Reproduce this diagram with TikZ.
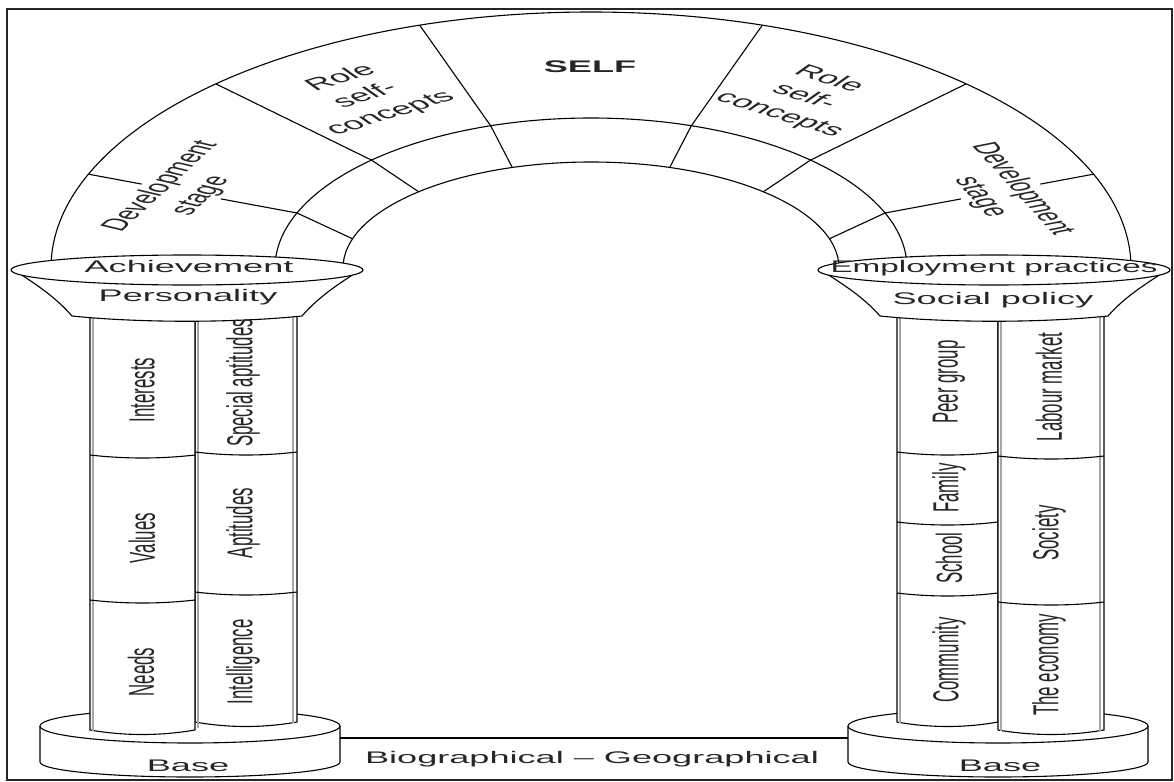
\documentclass[tikz,border=0pt]{standalone}
\usepackage{fontspec}
\setmainfont{Liberation Sans}

\newcommand{\lblfont}{\fontsize{16.8}{21}\selectfont}
\tikzset{
    lbl/.style={font=\lblfont, text=black!85, inner sep=0pt, align=center, xscale=2.15},
    vlbl/.style={lbl, rotate=90},
    col/.style={draw, fill=white},
    rim/.style={draw=black!35, line width=1.4pt},
}

\begin{document}
\begin{tikzpicture}[x=1pt, y=-1pt, line width=1.1pt]
    \useasboundingbox (0,0) rectangle (1174,781);

    \draw (51,268)  arc[start angle=180, end angle=360, x radius=540, y radius=256];
    \draw (275,268) arc[start angle=180, end angle=360, x radius=316, y radius=150];
    \draw (343,268) arc[start angle=180, end angle=360, x radius=248, y radius=106];
    \draw (215.9,83.9)  -- (371.5,160.1) -- (418.7,191.8);
    \draw (419.7,25.2)  -- (490.7,125.8) -- (512.3,167.5);
    \draw (762.3,25.2)  -- (691.3,125.8) -- (669.7,167.5);
    \draw (966.1,83.9)  -- (810.5,160.1) -- (763.3,191.8);
    \draw (88.6,174.2)  -- (141.7,184.1);
    \draw (220.9,198.9) -- (297,213)     -- (352.6,238.8);
    \draw (1093.4,174.2) -- (1040.3,184.1);
    \draw (961.1,198.9) -- (885,213)     -- (829.4,238.8);

    \draw[fill=white] (40,726) -- (40,762) arc[start angle=180, end angle=0, x radius=150, y radius=15] -- (340,726);
    \draw[fill=white] (190,726) ellipse[x radius=150, y radius=17];
    \draw[fill=white] (848,726) -- (848,762) arc[start angle=180, end angle=0, x radius=150, y radius=15] -- (1148,726);
    \draw[fill=white] (998,726) ellipse[x radius=150, y radius=17];
    \draw (340,738) -- (848,738);

    \draw[col] (195,314) -- (195,722) .. controls (229,728) and (263,728) .. (297,722) -- (297,314);
    \draw[rim] (293,316) -- (293,723);
    \draw[col] (90,314) -- (90,730) .. controls (125,736) and (160,736) .. (195,730) -- (195,314);
    \draw[rim] (93,316) -- (93,731);
    \draw[rim] (198,316) -- (198,728);
    \draw (90,455)  .. controls (125,459) and (160,459) .. (195,455);
    \draw (90,600)  .. controls (125,604) and (160,604) .. (195,600);
    \draw (195,452) .. controls (229,456) and (263,456) .. (297,452);
    \draw (195,592) .. controls (229,596) and (263,596) .. (297,592);

    \draw[col] (897,314) -- (897,722) .. controls (930,728) and (965,728) .. (998,722) -- (998,314);
    \draw[rim] (900,316) -- (900,723);
    \draw[col] (998,314) -- (998,730) .. controls (1033,736) and (1069,736) .. (1104,730) -- (1104,314);
    \draw[rim] (1001,316) -- (1001,731);
    \draw[rim] (1100,316) -- (1100,731);
    \draw (897,452)  .. controls (930,456) and (965,456) .. (998,452);
    \draw (897,522)  .. controls (930,526) and (965,526) .. (998,522);
    \draw (897,593)  .. controls (930,597) and (965,597) .. (998,593);
    \draw (998,456)  .. controls (1033,460) and (1069,460) .. (1104,456);
    \draw (998,602)  .. controls (1033,606) and (1069,606) .. (1104,602);

    \fill[white] (20,274) .. controls (42,288) and (58,300) .. (72,316) .. controls (140,323) and (234,323) .. (302,316)
        .. controls (316,300) and (332,288) .. (354,274) -- cycle;
    \draw (20,274) .. controls (42,288) and (58,300) .. (72,316) .. controls (140,323) and (234,323) .. (302,316)
        .. controls (316,300) and (332,288) .. (354,274);
    \draw[fill=white] (187,270) ellipse[x radius=176, y radius=15];
    \fill[white] (827,274) .. controls (849,288) and (866,300) .. (880,316) .. controls (948,323) and (1040,323) .. (1108,316)
        .. controls (1122,300) and (1139,288) .. (1161,274) -- cycle;
    \draw (827,274) .. controls (849,288) and (866,300) .. (880,316) .. controls (948,323) and (1040,323) .. (1108,316)
        .. controls (1122,300) and (1139,288) .. (1161,274);
    \draw[fill=white] (994,270) ellipse[x radius=176, y radius=15];

    \node[lbl, font=\lblfont\bfseries] (self)   at (590,67)    {SELF};
    \node[lbl, rotate=33.3]            (roleL)  at (366,96)    {Role\\self-\\concepts};
    \node[lbl, rotate=-33.3]           (roleR)  at (804,97)    {Role\\self-\\concepts};
    \node[lbl, rotate=63.1]            (devL)   at (181,191)   {Development\\stage};
    \node[lbl, rotate=-66.9]           (devR)   at (1001,193)  {Development\\stage};
    \node[lbl]                         (achv)   at (189,266)   {Achievement};
    \node[lbl]                         (pers)   at (188,297)   {Personality};
    \node[lbl, xscale=0.92]            (empl)   at (994,268)   {Employment practices};
    \node[lbl]                         (socp)   at (993,300)   {Social policy};

    \node[vlbl] (interests)    at (142,390)  {Interests};
    \node[vlbl] (values)       at (142,538)  {Values};
    \node[vlbl] (needs)        at (141,672)  {Needs};
    \node[vlbl] (specapt)      at (243,383)  {Special aptitudes};
    \node[vlbl] (aptitudes)    at (243,523)  {Aptitudes};
    \node[vlbl] (intelligence) at (243,662)  {Intelligence};
    \node[vlbl] (peer)         at (949,382)  {Peer group};
    \node[vlbl] (family)       at (949,488)  {Family};
    \node[vlbl] (school)       at (949,558)  {School};
    \node[vlbl] (community)    at (949,660)  {Community};
    \node[vlbl] (labour)       at (1049,387) {Labour market};
    \node[vlbl] (society)      at (1049,533) {Society};
    \node[vlbl] (economy)      at (1049,665) {The economy};

    \node[lbl] (baseL)  at (188,766)  {Base};
    \node[lbl] (baseR)  at (1000,766) {Base};
    \node[lbl] (biogeo) at (592,759)  {Biographical -- Geographical};

    \draw[line width=2.5pt, black!85] (7,9) rectangle (1172,780);
\end{tikzpicture}
\end{document}
